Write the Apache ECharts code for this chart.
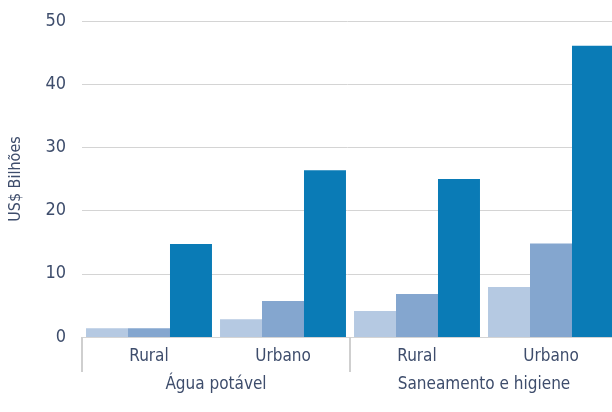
<!DOCTYPE html>
<html>
<head>
<meta charset="utf-8">
<script src="https://cdn.jsdelivr.net/npm/echarts@6/dist/echarts.min.js"></script>
<style>
  html, body { margin: 0; padding: 0; background: #fff; }
  #chart { width: 612px; height: 412px; }
</style>
</head>
<body>
<div id="chart"></div>
<script>
// categorias
const subCats = ['Rural', 'Urbano', 'Rural', 'Urbano'];
const groupCats = ['Água potável', 'Saneamento e higiene'];
const yTicks = [0, 10, 20, 30, 40, 50];

// valores (US$ bilhões)
const serieA = [1.4, 2.8, 4.1, 7.9];
const serieB = [1.4, 5.7, 6.8, 14.8];
const serieC = [14.7, 26.4, 25.0, 46.1];

const colors = ['#b5c9e2', '#84a6cf', '#0a7bb6'];
const txt = '#3e4d6c';
const font = "'DejaVu Sans Condensed', 'Liberation Sans Narrow', sans-serif";

const chart = echarts.init(document.getElementById('chart'));

chart.setOption({
    animation: false,
    // o gráfico original é cortado à direita
    grid: { left: 82, width: 536, top: 21, bottom: 75, outerBoundsMode: 'none' },
    xAxis: [
        {
            type: 'category',
            data: subCats,
            axisLine: { show: true, lineStyle: { color: '#d4d4d4', width: 1 } },
            axisTick: { show: false },
            axisLabel: { color: txt, fontFamily: font, fontSize: 17, margin: 11 }
        },
        {
            type: 'category',
            data: groupCats,
            position: 'bottom',
            axisLine: { show: false },
            axisTick: { show: true, length: 35, interval: 0, lineStyle: { color: '#cfcfcf', width: 2 } },
            axisLabel: { color: txt, fontFamily: font, fontSize: 17, margin: 39 }
        }
    ],
    yAxis: {
        type: 'value',
        min: yTicks[0],
        max: yTicks[yTicks.length - 1],
        interval: 10,
        name: 'US$ Bilhões',
        nameLocation: 'middle',
        nameGap: 58,
        nameTextStyle: { color: txt, fontFamily: font, fontSize: 16 },
        axisLine: { show: false },
        axisTick: { show: false },
        axisLabel: { color: txt, fontFamily: font, fontSize: 18, margin: 16 },
        splitLine: { lineStyle: { color: '#d4d4d4', width: 1 } }
    },
    series: [
        { name: 'A', type: 'bar', data: serieA, itemStyle: { color: colors[0] }, barGap: '0%', barCategoryGap: '6%' },
        { name: 'B', type: 'bar', data: serieB, itemStyle: { color: colors[1] }, barGap: '0%', barCategoryGap: '6%' },
        { name: 'C', type: 'bar', data: serieC, itemStyle: { color: colors[2] }, barGap: '0%', barCategoryGap: '6%' }
    ]
});
</script>
</body>
</html>
